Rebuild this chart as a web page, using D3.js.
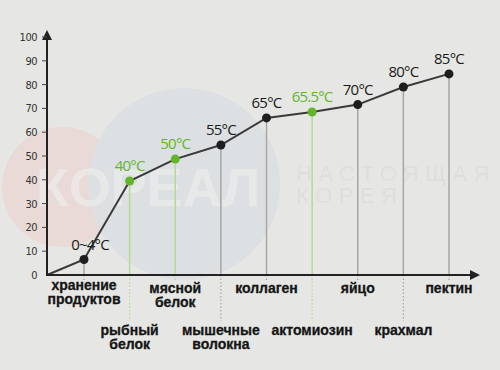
<!DOCTYPE html>
<html>
<head>
<meta charset="utf-8">
<script src="https://cdn.jsdelivr.net/npm/d3@7"></script>
<style>
  body { margin: 0; background: #e6e7e4; }
  svg { display: block; }
</style>
</head>
<body>
<div id="chart"></div>
<script>
// categories (two lines each), temperatures and y values
let categories = [
    ['хранение', 'продуктов'],
    ['рыбный', 'белок'],
    ['мясной', 'белок'],
    ['мышечные', 'волокна'],
    ['коллаген'],
    ['актомиозин'],
    ['яйцо'],
    ['крахмал'],
    ['пектин']
];
let temps = ['0~4°C', '40°C', '50°C', '55°C', '65°C', '65.5°C', '70°C', '80°C', '85°C'];
let values = [6.5, 39.5, 48.7, 54.6, 66, 68.5, 71.6, 79, 84.5];
let highlight = [false, true, true, false, false, true, false, false, false];
let yTicks = [0, 10, 20, 30, 40, 50, 60, 70, 80, 90, 100];

let W = 500, H = 370;
let svg = d3.select('#chart').append('svg').attr('width', W).attr('height', H);

//背景
svg.append('rect').attr('width', W).attr('height', H).attr('fill', '#e6e7e4');

//水印
let wm = svg.append('g');
wm.append('circle').attr('cx', 62).attr('cy', 187).attr('r', 60).attr('fill', '#e9d9d7');
wm.append('circle').attr('cx', 184).attr('cy', 184).attr('r', 96).attr('fill', '#dde0e2');
wm.append('text').attr('x', 148).attr('y', 206).attr('text-anchor', 'middle')
    .attr('font-family', 'Liberation Sans, Arial, sans-serif').attr('font-weight', 'bold')
    .attr('font-size', 54).attr('fill', '#eef0ee').attr('fill-opacity', 0.55)
    .text('КОРЕАЛ');
wm.append('text').attr('x', 296).attr('y', 181)
    .attr('font-family', 'Liberation Sans, Arial, sans-serif')
    .attr('font-size', 22).attr('letter-spacing', 6.5).attr('fill', '#dedfdc')
    .text('НАСТОЯЩАЯ');
wm.append('text').attr('x', 296).attr('y', 203)
    .attr('font-family', 'Liberation Sans, Arial, sans-serif')
    .attr('font-size', 22).attr('letter-spacing', 6.5).attr('fill', '#dedfdc')
    .text('КОРЕЯ');

//比例尺
let x0 = 47, yBase = 275;
let x = d3.scalePoint().domain(d3.range(categories.length)).range([84, 449]);
let y = d3.scaleLinear().domain([0, 100]).range([yBase, 37]);

let green = '#62b52a', greenLight = '#b3da98', grey = '#a6a7a4';

let g = svg.append('g');

//竖线（点到轴）
g.selectAll('line.drop')
    .data(values)
    .enter()
    .append('line')
    .attr('x1', (d, i) => x(i)).attr('x2', (d, i) => x(i))
    .attr('y1', d => y(d)).attr('y2', yBase)
    .attr('stroke', (d, i) => highlight[i] ? greenLight : grey)
    .attr('stroke-width', 1.5);

//虚线（轴到标签）
g.selectAll('line.dot')
    .data(values)
    .enter()
    .append('line')
    .attr('x1', (d, i) => x(i)).attr('x2', (d, i) => x(i))
    .attr('y1', yBase).attr('y2', (d, i) => i % 2 ? 321 : 280)
    .attr('stroke', (d, i) => highlight[i] ? greenLight : grey)
    .attr('stroke-width', 1.2)
    .attr('stroke-dasharray', '1.5,2');

//坐标轴
let axisColor = '#222';
svg.append('line').attr('x1', x0).attr('x2', x0).attr('y1', yBase + 1).attr('y2', 38)
    .attr('stroke', axisColor).attr('stroke-width', 2);
svg.append('path').attr('d', `M${x0 - 5},${40} L${x0},${30} L${x0 + 5},${40} Z`).attr('fill', axisColor);
svg.append('line').attr('x1', x0 - 1).attr('x2', 472).attr('y1', yBase).attr('y2', yBase)
    .attr('stroke', axisColor).attr('stroke-width', 2);
svg.append('path').attr('d', `M${470},${yBase - 5} L${480},${yBase} L${470},${yBase + 5} Z`).attr('fill', axisColor);

//y刻度
let yt = svg.append('g');
yt.selectAll('line')
    .data(yTicks.filter(d => d > 0))
    .enter()
    .append('line')
    .attr('x1', x0 - 5).attr('x2', x0)
    .attr('y1', d => y(d)).attr('y2', d => y(d))
    .attr('stroke', '#444').attr('stroke-width', 1);
yt.selectAll('text')
    .data(yTicks)
    .enter()
    .append('text')
    .attr('x', 37)
    .attr('y', d => y(d) + 4)
    .attr('text-anchor', 'end')
    .attr('font-family', 'DejaVu Sans Condensed, Liberation Sans Narrow, sans-serif')
    .attr('font-size', 11)
    .attr('letter-spacing', -0.5)
    .attr('fill', '#333')
    .text(d => d);

//折线
let pts = [[x0, yBase]].concat(values.map((d, i) => [x(i), y(d)]));
g.append('path')
    .attr('d', d3.line()(pts))
    .attr('fill', 'none')
    .attr('stroke', '#3a3a3a')
    .attr('stroke-width', 2);

//点
g.selectAll('circle')
    .data(values)
    .enter()
    .append('circle')
    .attr('cx', (d, i) => x(i))
    .attr('cy', d => y(d))
    .attr('r', 4.5)
    .attr('fill', (d, i) => highlight[i] ? green : '#1e1e1e');

//温度标签
g.selectAll('text.temp')
    .data(values)
    .enter()
    .append('text')
    .attr('x', (d, i) => x(i) + (i === 0 ? 6 : 0))
    .attr('y', d => y(d) - 10)
    .attr('text-anchor', 'middle')
    .attr('font-family', 'Open Sans, DejaVu Sans, sans-serif')
    .attr('font-size', 15)
    .attr('letter-spacing', -0.8)
    .attr('fill', (d, i) => highlight[i] ? green : '#1a1a1a')
    .text((d, i) => temps[i]);

//类别标签
let cat = g.selectAll('text.cat')
    .data(categories)
    .enter()
    .append('text')
    .attr('text-anchor', 'middle')
    .attr('font-family', 'Liberation Sans, Arial, sans-serif')
    .attr('font-weight', 'bold')
    .attr('font-size', 14)
    .attr('fill', '#151515')
    .attr('stroke', '#151515')
    .attr('stroke-width', 0.3);
cat.each(function (d, i) {
    let base = i % 2 ? 335 : (i === 0 ? 290 : 293);
    d.forEach((s, k) => {
        d3.select(this).append('tspan')
            .attr('x', x(i))
            .attr('y', base + k * 13.5)
            .text(s);
    });
});
</script>
</body>
</html>
